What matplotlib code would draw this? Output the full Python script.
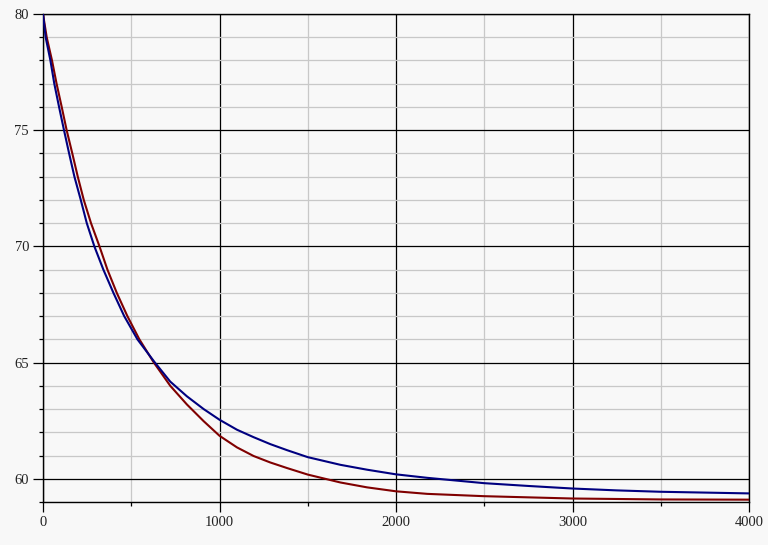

import matplotlib
matplotlib.use('Agg')
from matplotlib import pyplot as plt
from matplotlib.ticker import MultipleLocator

# red curve
red_x = [0, 21, 51, 77, 106, 134, 166, 197, 231, 272, 320, 365, 418, 478, 546,
         628, 721, 815, 910, 1000, 1099, 1193, 1288, 1383, 1500, 1685, 1836, 2000,
         2177, 2500, 3000, 3500, 4000]
red_y = [80, 79, 78, 77, 76, 75, 74, 73, 72, 71, 70, 69, 68, 67, 66,
         65, 64.0, 63.2, 62.48, 61.85, 61.35, 60.98, 60.70, 60.46, 60.18, 59.84, 59.63, 59.46,
         59.35, 59.25, 59.15, 59.11, 59.10]

# blue curve
blue_x = [0, 15, 42, 64, 91, 119, 148, 178, 214, 248, 291, 342, 399, 460, 535,
          632, 721, 815, 910, 1000, 1099, 1193, 1288, 1383, 1500, 1685, 1836, 2000, 2177,
          2500, 2750, 3000, 3250, 3500, 4000]
blue_y = [80, 79, 78, 77, 76, 75, 74, 73, 72, 71, 70, 69, 68, 67, 66,
          65.02, 64.18, 63.55, 63.0, 62.54, 62.11, 61.79, 61.49, 61.23, 60.93, 60.6, 60.39, 60.19, 60.04,
          59.81, 59.69, 59.58, 59.5, 59.44, 59.37]

x_ticks = [0, 1000, 2000, 3000, 4000]
y_ticks = [60, 65, 70, 75, 80]

bg = '#f8f8f8'
plt.rcParams['font.family'] = ['Liberation Serif', 'DejaVu Serif']

fig = plt.figure(figsize=(7.68, 5.45), dpi=100, facecolor=bg)
ax = fig.add_axes([43 / 768, 43 / 545, 706 / 768, 488 / 545], facecolor=bg)

ax.plot(red_x, red_y, color='#800000', lw=1.5, zorder=3)
ax.plot(blue_x, blue_y, color='#000080', lw=1.5, zorder=3)

ax.set_xlim(0, 4000)
ax.set_ylim(59, 80)
ax.set_xticks(x_ticks)
ax.set_yticks(y_ticks)
ax.xaxis.set_minor_locator(MultipleLocator(500))
ax.yaxis.set_minor_locator(MultipleLocator(1))

# grid: black major lines, light grey minor lines
ax.grid(which='minor', color='#c8c8c8', lw=0.9, zorder=1)
ax.grid(which='major', color='black', lw=0.9, zorder=2)
ax.set_axisbelow(True)

for spine in ax.spines.values():
    spine.set_color('black')
    spine.set_linewidth(1.0)

ax.tick_params(which='major', length=7, width=0.9, color='black',
               labelsize=10.5, labelcolor='#222222', pad=3)
ax.tick_params(which='minor', length=3, width=0.9, color='black')

plt.savefig('out.png', dpi=100, facecolor=bg)
